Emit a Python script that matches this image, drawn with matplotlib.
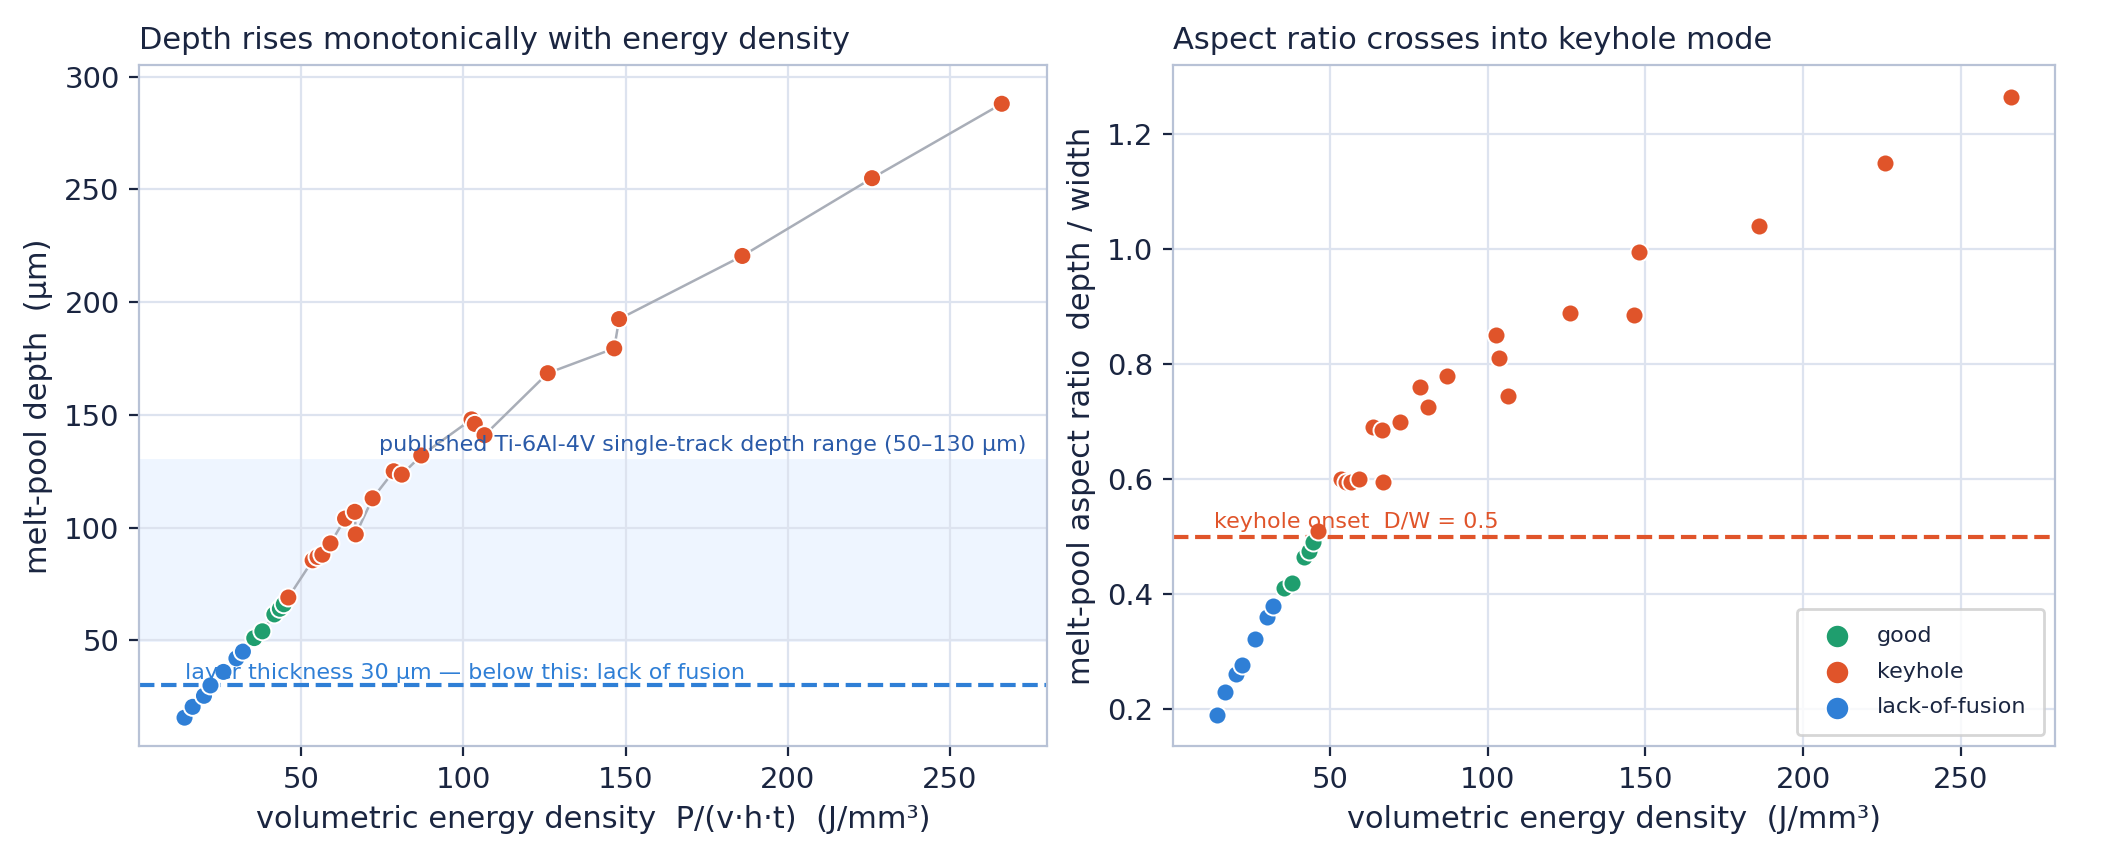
import numpy as np
import matplotlib.pyplot as plt

# energy density (J/mm^3), depth (um), aspect ratio, regime
energy = [14, 16.5, 20, 22, 26, 30, 32,
          35.5, 38, 41.7, 43.4, 44.6,
          46, 53.5, 55, 56.5, 59, 63.5, 66.5, 66.8, 72, 78.5, 81, 87,
          102.5, 103.5, 106.5, 126, 146.5, 148, 186, 226, 266]
depth = [15.7, 20.5, 25.4, 30, 36, 42, 45,
         51, 54, 61.5, 64, 66,
         69, 85.5, 87, 88, 93, 104, 107, 97, 113, 125, 123.5, 132,
         148, 146, 141, 168.5, 179.5, 192.5, 220.5, 255, 288]
ratio = [0.19, 0.23, 0.26, 0.277, 0.322, 0.36, 0.38,
         0.41, 0.42, 0.465, 0.475, 0.49,
         0.51, 0.60, 0.595, 0.595, 0.60, 0.69, 0.685, 0.595, 0.70, 0.76, 0.725, 0.78,
         0.85, 0.81, 0.745, 0.89, 0.885, 0.995, 1.04, 1.15, 1.265]
regime = ["lack-of-fusion"] * 7 + ["good"] * 5 + ["keyhole"] * 21

colors = {"good": "#1f9e6e", "keyhole": "#e0542a", "lack-of-fusion": "#2f7fd6"}
ink = "#1a2540"

plt.rcParams.update({
    "font.family": "DejaVu Sans",
    "text.color": ink, "axes.labelcolor": ink,
    "xtick.color": ink, "ytick.color": ink,
    "axes.edgecolor": "#b8c2d6",
})

fig, (ax1, ax2) = plt.subplots(1, 2, figsize=(10.54, 4.25), dpi=200,
                               gridspec_kw={"width_ratios": [0.431, 0.419]})
fig.subplots_adjust(left=0.066, right=0.975, bottom=0.122, top=0.923, wspace=0.14)
cols = [colors[r] for r in regime]

for ax in (ax1, ax2):
    ax.grid(color="#dde3ef", lw=0.8)
    ax.set_axisbelow(True)
    ax.set_xlim(0, 280)
    ax.tick_params(labelsize=10.5)

# left panel
ax1.axhspan(50, 130, color="#eef5ff", zorder=0)
ax1.plot(energy, depth, color="#a9aeb8", lw=0.9, zorder=2)
ax1.scatter(energy, depth, c=cols, s=42, edgecolor="white", lw=0.7, zorder=3)
ax1.axhline(30, color="#2f7fd6", ls="--", lw=1.5, zorder=2)
ax1.text(14, 33, "layer thickness 30 µm — below this: lack of fusion", color="#2f7fd6", fontsize=8)
ax1.text(74, 134, "published Ti-6Al-4V single-track depth range (50–130 µm)", color="#2a5aa8", fontsize=8)
ax1.set_ylim(3, 305)
ax1.set_yticks([50, 100, 150, 200, 250, 300])
ax1.set_xticks([50, 100, 150, 200, 250])
ax1.set_xlabel("volumetric energy density  P/(v·h·t)  (J/mm³)", fontsize=11)
ax1.set_ylabel("melt-pool depth  (µm)", fontsize=11)
ax1.set_title("Depth rises monotonically with energy density", loc="left", fontsize=11)

# right panel
for name in ["good", "keyhole", "lack-of-fusion"]:
    xs = [e for e, r in zip(energy, regime) if r == name]
    ys = [v for v, r in zip(ratio, regime) if r == name]
    ax2.scatter(xs, ys, c=colors[name], s=42, edgecolor="white", lw=0.7, zorder=3, label=name)
ax2.axhline(0.5, color="#e0542a", ls="--", lw=1.5, zorder=2)
ax2.text(13, 0.515, "keyhole onset  D/W = 0.5", color="#e0542a", fontsize=8)
ax2.set_ylim(0.135, 1.32)
ax2.set_yticks([0.2, 0.4, 0.6, 0.8, 1.0, 1.2])
ax2.set_xticks([50, 100, 150, 200, 250])
ax2.set_xlabel("volumetric energy density  (J/mm³)", fontsize=11)
ax2.set_ylabel("melt-pool aspect ratio  depth / width", fontsize=11)
ax2.set_title("Aspect ratio crosses into keyhole mode", loc="left", fontsize=11)
ax2.legend(loc="lower right", fontsize=8, markerscale=1.3, borderpad=0.8, labelspacing=0.7)

fig.savefig("out.png")
